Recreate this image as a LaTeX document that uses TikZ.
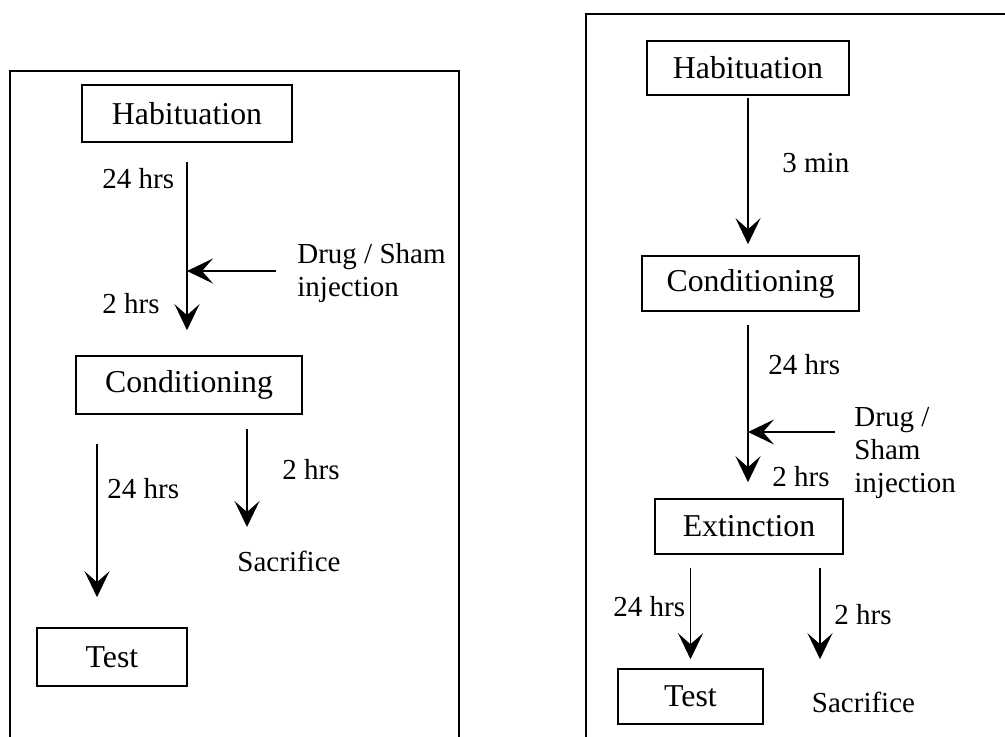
\documentclass[tikz,border=0pt]{standalone}
\usepackage{fontspec}
\setmainfont{Liberation Serif}
\usetikzlibrary{arrows.meta}
\begin{document}
\begin{tikzpicture}[x=0.5pt,y=-0.5pt,
  every node/.style={font=\fontsize{14.5}{16.5}\selectfont},
  stagebox/.style={draw,line width=0.8pt,inner sep=0pt,align=center,font=\fontsize{15.9}{17}\selectfont},
  lbl/.style={inner sep=0pt,anchor=west,align=left},
  frame/.style={line width=1.1pt},
  arr/.style={line width=0.8pt,-{Stealth[length=13pt,width=12.5pt,inset=5.5pt]}}]
\clip (0,0) rectangle (1005,736);
\useasboundingbox (0,0) rectangle (1005,736);
\fill[white] (0,0) rectangle (1005,736);
% frames
\draw[frame] (10,760) -- (10,71) -- (459,71) -- (459,760);
\draw[frame] (586,760) -- (586,14) -- (1030,14);
% ---- left panel ----
\node[stagebox,minimum width=105pt,minimum height=28.5pt] (hab1) at (187,113.5) {Habituation};
\node[stagebox,minimum width=113pt,minimum height=29pt] (cond1) at (189,385) {Conditioning};
\node[stagebox,minimum width=75pt,minimum height=29pt] (test1) at (112,657) {Test};
\node[inner sep=0pt] (sac1) at (289,561) {Sacrifice};
\node[lbl] (l24a) at (102,179) {24 hrs};
\node[lbl] (l2a) at (102,304) {2 hrs};
\node[lbl] (inj1) at (297,273.5) {Drug / Sham\\injection};
\node[lbl] (l24b) at (107,489) {24 hrs};
\node[lbl] (l2b) at (282,470) {2 hrs};
\coordinate (m1) at (187,271);
\coordinate (s1) at (247,527);
\draw[arr,shorten <=9.5pt,shorten >=12.5pt] (hab1.south) -- (hab1.south |- cond1.north);
\draw[arr,shorten <=10.5pt] (inj1.west |- m1) -- (m1);
\draw[arr] ([xshift=-46pt,yshift=-14.5pt]cond1.south) -- ([xshift=-7.5pt,yshift=15pt]test1.north);
\draw[arr] ([xshift=29pt,yshift=-7pt]cond1.south) -- (s1);
% ---- right panel ----
\node[stagebox,minimum width=101pt,minimum height=27pt] (hab2) at (748,68) {Habituation};
\node[stagebox,minimum width=108.5pt,minimum height=27.5pt] (cond2) at (750.5,283.5) {Conditioning};
\node[stagebox,minimum width=94pt,minimum height=27.5pt] (ext2) at (749,526.5) {Extinction};
\node[stagebox,minimum width=72.5pt,minimum height=27.5pt] (test2) at (690.5,696.5) {Test};
\node[inner sep=0pt] (sac2) at (863.5,702) {Sacrifice};
\node[lbl] (l3m) at (782,163) {3 min};
\node[lbl] (l24c) at (768,365) {24 hrs};
\node[lbl] (inj2) at (854,453.5) {Drug /\\Sham\\injection};
\node[lbl] (l2c) at (772,477) {2 hrs};
\node[lbl] (l24d) at (613,607) {24 hrs};
\node[lbl] (l2d) at (834,615) {2 hrs};
\coordinate (m2) at (748,432);
\draw[arr,shorten <=1pt,shorten >=5.5pt] (hab2.south) -- (hab2.south |- cond2.north);
\draw[arr,shorten <=6.5pt,shorten >=8pt] (hab2.south |- cond2.south) -- (hab2.south |- ext2.north);
\draw[arr,shorten <=9.5pt] (inj2.west |- m2) -- (m2);
\draw[arr,shorten <=6.5pt,shorten >=4.5pt] (test2.north |- ext2.south) -- (test2.north);
\draw[arr,shorten <=6.5pt,shorten >=4.5pt] ([xshift=35.5pt]ext2.south) -- ([xshift=35.5pt]ext2.south |- test2.north);
\end{tikzpicture}
\end{document}
